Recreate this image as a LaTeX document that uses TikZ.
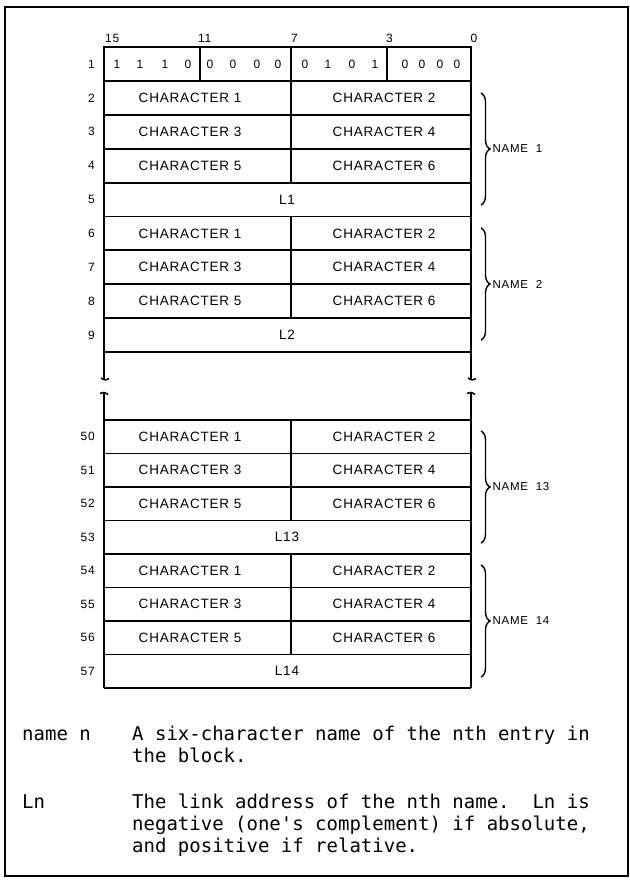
\documentclass[tikz,border=0pt]{standalone}
\usepackage{fontspec}
\newfontfamily\tabfont[LetterSpace=6]{Liberation Sans}
\newfontfamily\notefont{DejaVu Sans Mono}
\usetikzlibrary{decorations.pathreplacing}

\begin{document}
\begin{tikzpicture}[x=1pt, y=-1pt,
    frame/.style={line width=1.9pt},
    txt/.style={font=\tabfont\fontsize{13.5}{15}\selectfont, inner sep=0pt},
    bit/.style={font=\tabfont\fontsize{12}{14}\selectfont, inner sep=0pt},
    rownum/.style={font=\tabfont\fontsize{12}{14}\selectfont, anchor=east, inner sep=0pt},
    namebrace/.style={decorate, decoration={brace, amplitude=9pt}, line width=1.4pt},
    bracelab/.style={font=\tabfont\fontsize{11.5}{13}\selectfont, anchor=west, inner sep=0pt, xshift=11pt},
    note/.style={font=\notefont\fontsize{19}{22}\selectfont, anchor=north west, inner sep=0pt, align=left}
  ]
    \useasboundingbox (0,0) rectangle (629,882);
    \draw[line width=1.2pt] (5,7) rectangle (628,876);

    % bit positions and header word
    \foreach \x/\n in {105/15, 198/11, 291/7, 386/3}
      \node[bit, anchor=west] (h\n) at (\x,38) {\n};
    \node[bit] (h0) at (474,38) {0};

    \draw[frame] (104,47) rectangle (471,80.9);
    \foreach \x in {200, 291, 387}
      \draw[frame] (\x,47) -- (\x,80.9);
    \foreach \x/\b [count=\i] in {117/1, 140/1, 165/1, 188/0, 210/0, 233/0, 257/0, 278/0,
                                  305/0, 328/1, 352/0, 375/1, 405/0, 422/0, 440/0, 457/0}
      \node[bit] (b\i) at (\x,64) {\b};
    \node[rownum] (n1) at (95,64) {1};

    % upper block, rows 2-9
    \draw[frame] (104,47) -- (104,379);
    \draw[frame] (471,47) -- (471,379);
    \foreach \r in {1,...,9}
      \draw[frame] (104,{47+33.9*\r}) -- (471,{47+33.9*\r});
    \draw[frame] (291,80.9) -- (291,182.6);
    \draw[frame] (291,216.5) -- (291,318.2);
    \foreach \r in {2,...,9}
      \node[rownum] (n\r) at (95,{47+33.9*(\r-0.5)}) {\r};
    \foreach \r/\a/\b in {2/1/2, 3/3/4, 4/5/6, 6/1/2, 7/3/4, 8/5/6} {
      \node[txt] (c\r a) at (190,{47+33.9*(\r-0.5)}) {CHARACTER \a};
      \node[txt] (c\r b) at (384,{47+33.9*(\r-0.5)}) {CHARACTER \b};
    }
    \node[txt] (l5) at (287,199.5) {L1};
    \node[txt] (l9) at (287,335.2) {L2};

    % break in the block
    \foreach \x in {104, 471} {
      \draw[line width=1.5pt] (\x-3,378) .. controls (\x+1,380.5) .. (\x+5,378.5);
      \draw[line width=1.5pt] (\x-4,393.5) .. controls (\x,392) .. (\x+4,394.5);
    }

    % lower block, rows 50-57
    \draw[frame] (104,393) -- (104,688);
    \draw[frame] (471,393) -- (471,688);
    \foreach \k in {0,...,8}
      \draw[frame] (104,{420+33.5*\k}) -- (471,{420+33.5*\k});
    \draw[frame] (291,420) -- (291,520.5);
    \draw[frame] (291,554) -- (291,654.5);
    \foreach \r in {50,...,57}
      \node[rownum] (n\r) at (95,{420+33.5*(\r-49.5)}) {\r};
    \foreach \r/\a/\b in {50/1/2, 51/3/4, 52/5/6, 54/1/2, 55/3/4, 56/5/6} {
      \node[txt] (c\r a) at (190,{420+33.5*(\r-49.5)}) {CHARACTER \a};
      \node[txt] (c\r b) at (384,{420+33.5*(\r-49.5)}) {CHARACTER \b};
    }
    \node[txt] (l53) at (287,537.2) {L13};
    \node[txt] (l57) at (287,671.2) {L14};

    % names
    \draw[namebrace] (481,93) -- (481,205)
      node[bracelab, midway] (nm1) {NAME\ \ 1};
    \draw[namebrace] (481,228) -- (481,340)
      node[bracelab, midway] (nm2) {NAME\ \ 2};
    \draw[namebrace] (481,431) -- (481,543)
      node[bracelab, midway] (nm13) {NAME\ \ 13};
    \draw[namebrace] (481,565) -- (481,677)
      node[bracelab, midway] (nm14) {NAME\ \ 14};

    % legend
    \node[note] (k1) at (22,725) {\strut name n};
    \node[note] (d1) at (132,725) {\strut A six-character name of the nth entry in\\the block.};
    \node[note] (k2) at (22,793) {\strut Ln};
    \node[note] (d2) at (132,793) {\strut The link address of the nth name.\ \ Ln is\\
      negative (one's complement) if absolute,\\and positive if relative.};
  \end{tikzpicture}
\end{document}
